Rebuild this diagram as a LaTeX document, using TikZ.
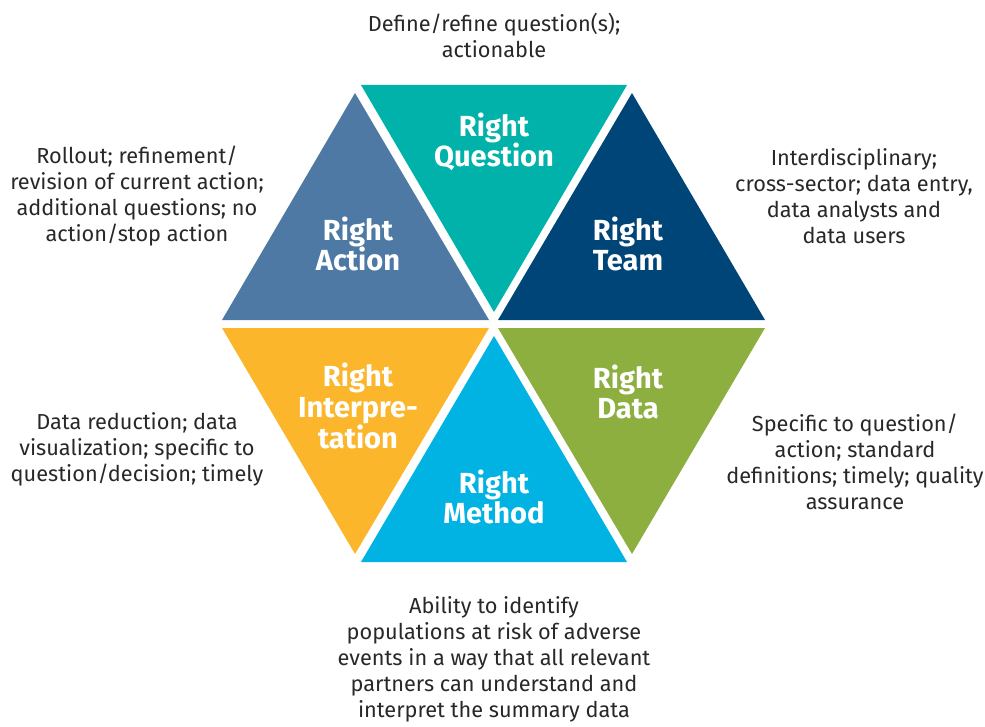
\documentclass[tikz,border=0pt]{standalone}
\usepackage{fontspec}
\setmainfont{Fira Sans}
\usepackage{tikz}
\usetikzlibrary{positioning}

\definecolor{qteal}{RGB}{0,178,169}
\definecolor{tnavy}{RGB}{0,69,119}
\definecolor{asteel}{RGB}{78,121,165}
\definecolor{iyellow}{RGB}{251,182,43}
\definecolor{dgreen}{RGB}{141,175,64}
\definecolor{mcyan}{RGB}{0,179,226}
\definecolor{txtgray}{RGB}{40,40,40}

\tikzset{
  title/.style={ text=white, align=center, font=\fontsize{21.8}{23}\selectfont\bfseries }
}
\tikzset{
  desc/.style={ text=txtgray, align=center, font=\fontsize{16.3}{19.5}\selectfont }
}

\begin{document}
\begin{tikzpicture}[x=0.75pt, y=-0.75pt]
      \useasboundingbox (0,0) rectangle (985,727);

      % the six triangles
      \fill[qteal]   (361,85)  -- (627,85)  -- (494,312) -- cycle;
      \fill[tnavy]   (632,93)  -- (765,320) -- (498,320) -- cycle;
      \fill[asteel]  (355,93)  -- (489,320) -- (222,320) -- cycle;
      \fill[iyellow] (222,328) -- (489,328) -- (355,554) -- cycle;
      \fill[dgreen]  (498,328) -- (765,328) -- (632,554) -- cycle;
      \fill[mcyan]   (494,336) -- (627,562) -- (361,562) -- cycle;

      \node[title] (Q) at (494,142) {Right\\Question};
      \node[title] (T) at (628,244) {Right\\Team};
      \node[title] (A) at (358,244) {Right\\Action};
      \node[title] (I) at (358,406) {Right\\Interpre-\\tation};
      \node[title] (D) at (628,392) {Right\\Data};
      \node[title] (M) at (494,497) {Right\\Method};

      \node[desc] (Qd) at (494,35)  {Define/refine question(s);\\actionable};
      \node[desc] (Td) at (854,196) {Interdisciplinary;\\cross-sector; data entry,\\data analysts and\\data users};
      \node[desc] (Ad) at (137,196) {Rollout; refinement/\\revision of current action;\\additional questions; no\\action/stop action};
      \node[desc] (Id) at (137,449) {Data reduction; data\\visualization; specific to\\question/decision; timely};
      \node[desc] (Dd) at (855,462) {Specific to question/\\action; standard\\definitions; timely; quality\\assurance};
      \node[desc] (Md) at (494,659) {Ability to identify\\populations at risk of adverse\\events in a way that all relevant\\partners can understand and\\interpret the summary data};
    \end{tikzpicture}
\end{document}
